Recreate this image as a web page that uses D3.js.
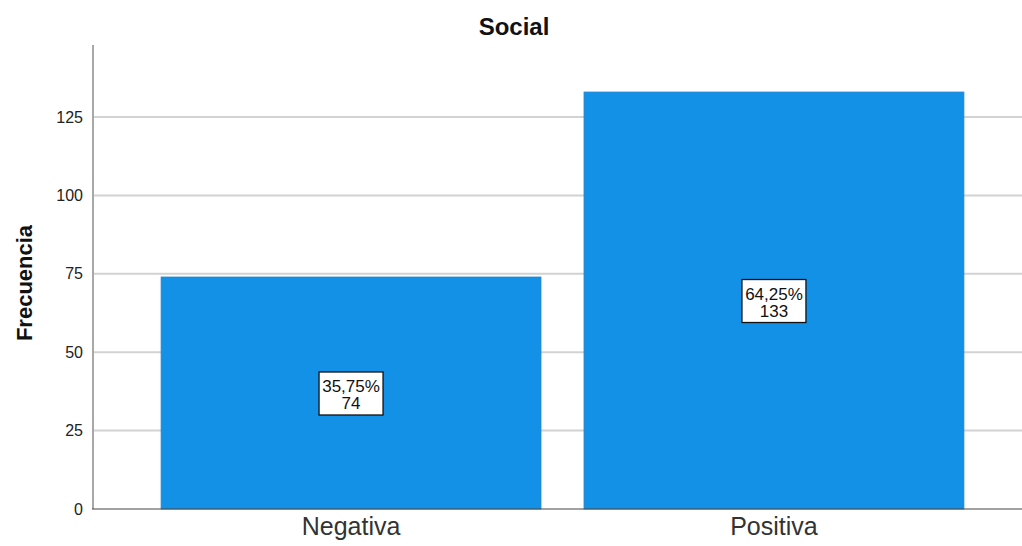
<!DOCTYPE html>
<html><head><meta charset="utf-8">
<script src="https://cdn.jsdelivr.net/npm/d3@7"></script>
<style>body{margin:0;background:#fff}svg{display:block;font-family:"Liberation Sans",Arial,sans-serif}</style>
</head><body><svg id="c" width="1022" height="546"></svg>
<script>
const categories = ["Negativa", "Positiva"];
const counts = [74, 133];
const percents = ["35,75%", "64,25%"];
const yTicks = [0, 25, 50, 75, 100, 125];
const title = "Social";
const yLabel = "Frecuencia";

const svg = d3.select("#c");
const x = d3.scaleBand().domain(categories).range([93, 1032]).paddingInner(0.1017).paddingOuter(0.161);
const y = d3.scaleLinear().domain([0, 148]).range([509, 45]);

// gridlines
svg.append("g").selectAll("line").data(yTicks.filter(d => d > 0)).join("line")
  .attr("x1", 93).attr("x2", 1022).attr("y1", d => y(d)).attr("y2", d => y(d))
  .attr("stroke", "#d2d2d2").attr("stroke-width", 2);

// bars
svg.append("g").selectAll("rect").data(categories).join("rect")
  .attr("x", d => x(d)).attr("width", x.bandwidth())
  .attr("y", (d, i) => y(counts[i])).attr("height", (d, i) => y(0) - y(counts[i]))
  .attr("fill", "#1391e6").attr("stroke", "#2a86cc").attr("stroke-width", 0.8);

// y axis
const ya = svg.append("g").attr("transform", "translate(93,0)")
  .call(d3.axisLeft(y).tickValues(yTicks).tickSize(0).tickPadding(10));
ya.select(".domain").remove();
ya.selectAll("text").attr("font-size", 16).attr("fill", "#222").attr("font-family", "Liberation Sans, Arial, sans-serif");
svg.append("line").attr("x1", 93).attr("x2", 93).attr("y1", 45).attr("y2", 509)
  .attr("stroke", "#a8a8a8").attr("stroke-width", 2);

// x axis
const xa = svg.append("g").attr("transform", "translate(0,509)")
  .call(d3.axisBottom(x).tickSize(0).tickPadding(8));
xa.select(".domain").remove();
xa.selectAll("text").attr("font-size", 25).attr("fill", "#333").attr("font-family", "Liberation Sans, Arial, sans-serif");
svg.append("line").attr("x1", 92).attr("x2", 1022).attr("y1", 509).attr("y2", 509)
  .attr("stroke", "#444").attr("stroke-width", 1.2);

// labels
const lab = svg.append("g").selectAll("g").data(categories).join("g")
  .attr("transform", (d, i) => `translate(${x(d) + x.bandwidth() / 2},${(y(0) + y(counts[i])) / 2})`);
lab.append("rect").attr("x", -32).attr("y", -21).attr("width", 64).attr("height", 43)
  .attr("fill", "#fff").attr("stroke", "#111").attr("stroke-width", 1.3);
lab.append("text").attr("text-anchor", "middle").attr("y", -1).attr("font-size", 17).attr("fill", "#111")
  .text((d, i) => percents[i]);
lab.append("text").attr("text-anchor", "middle").attr("y", 16).attr("font-size", 17).attr("fill", "#111")
  .text((d, i) => counts[i]);

// title
svg.append("text").attr("x", 514).attr("y", 35).attr("text-anchor", "middle")
  .attr("font-size", 24).attr("font-weight", "bold").attr("fill", "#111").text(title);
svg.append("text").attr("transform", "translate(32,283) rotate(-90)").attr("text-anchor", "middle")
  .attr("font-size", 22).attr("font-weight", "bold").attr("fill", "#111").text(yLabel);
</script></body></html>
